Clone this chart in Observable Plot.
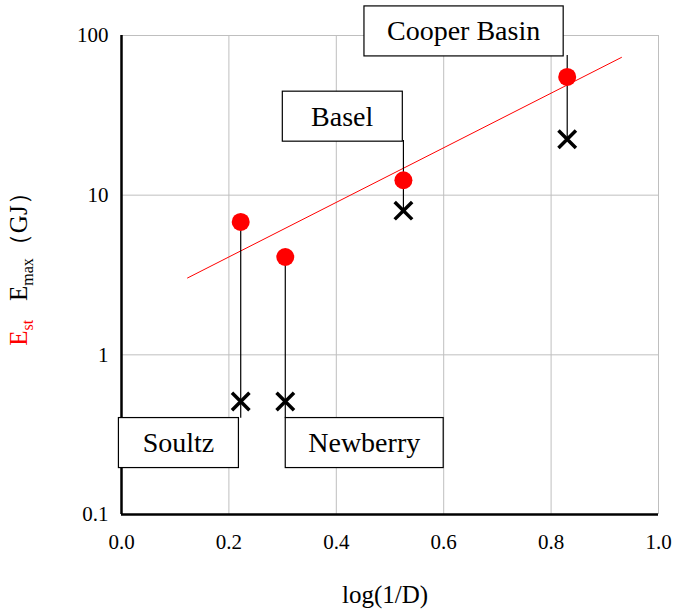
<!DOCTYPE html>
<html><head><meta charset="utf-8">
<script src="https://cdn.jsdelivr.net/npm/d3@7"></script>
<script src="https://cdn.jsdelivr.net/npm/@observablehq/plot@0.6"></script>
<style>body{margin:0;background:#fff} svg{font-family:"Liberation Serif","Times New Roman",serif}</style>
</head><body><div id="chart"></div>
<script>
// ---- data ----
const sites = ["Soultz", "Newberry", "Basel", "Cooper Basin"];
const logInvD = [0.222, 0.305, 0.525, 0.83];
const Est = [6.8, 4.1, 12.4, 55];
const Emax = [0.51, 0.51, 8.0, 22.4];
// callout label anchor (data units) and leader line span
const labelX = [0.106, 0.452, 0.411, 0.637];
const labelY = [0.28, 0.28, 31, 106];
const leaderFrom = [6.8, 4.1, 8.0, 22.4];
const leaderTo = [0.4, 0.4, 22, 75];
// trend line (regression of Est)
const trendX = [0.123, 0.931];
const trendY = [3.03, 72.9];
const xTicks = [0, 0.2, 0.4, 0.6, 0.8, 1.0];
const yTicks = [0.1, 1, 10, 100];

const data = sites.map((s, i) => ({site: s, x: logInvD[i], est: Est[i], emax: Emax[i],
  lx: labelX[i], ly: labelY[i], from: leaderFrom[i], to: leaderTo[i]}));
const trend = trendX.map((x, i) => ({x, y: trendY[i]}));

const W = 673, H = 611;
const chart = Plot.plot({
  width: W, height: H,
  marginLeft: 121, marginRight: 15, marginTop: 35, marginBottom: 97,
  style: {fontFamily: "Liberation Serif, Times New Roman, serif", fontSize: "21px", background: "white", color: "black"},
  x: {domain: [0, 1]},
  y: {type: "log", domain: [0.1, 100]},
  marks: [
    Plot.gridX(xTicks.filter(d => d > 0), {stroke: "#bfbfbf", strokeOpacity: 1}),
    Plot.gridY([1, 10, 100], {stroke: "#bfbfbf", strokeOpacity: 1}),
    Plot.axisX(xTicks, {tickSize: 0, tickPadding: 20, tickFormat: d => d.toFixed(1), label: null, fontSize: 21}),
    Plot.axisY(yTicks, {tickSize: 0, tickPadding: 13, tickFormat: d => String(d), label: null, fontSize: 21}),
    Plot.ruleX([0], {stroke: "black", strokeWidth: 2.5}),
    Plot.ruleY([0.1], {stroke: "black", strokeWidth: 2.5}),
    Plot.line(trend, {x: "x", y: "y", stroke: "red", strokeWidth: 1}),
    Plot.ruleX(data, {x: "x", y1: "from", y2: "to", stroke: "black", strokeWidth: 1.2}),
    Plot.dot(data, {x: "x", y: "est", r: 9, fill: "red"}),
    Plot.dot(data, {x: "x", y: "emax", symbol: "times", r: 8, stroke: "black", strokeWidth: 3.5}),
    Plot.text(data, {x: "lx", y: "ly", text: "site", fontSize: 28, fill: "black", className: "callout"})
  ]
});
document.getElementById("chart").appendChild(chart);

// boxes behind callouts
const svg = d3.select(chart);
svg.selectAll("g.callout text").each(function () {
  const b = this.getBBox();
  const w = Math.max(b.width + 46, 120), h = 50;
  const cx = b.x + b.width / 2, cy = b.y + b.height / 2;
  d3.select(this.parentNode).insert("rect", () => this)
    .attr("transform", this.getAttribute("transform"))
    .attr("x", cx - w / 2).attr("y", cy - h / 2)
    .attr("width", w).attr("height", h)
    .attr("fill", "white").attr("stroke", "black").attr("stroke-width", 1.2);
});

// y axis label
const yl = svg.append("text")
  .attr("transform", "translate(27,263) rotate(-90)")
  .attr("text-anchor", "middle")
  .attr("font-size", 25)
  .attr("fill", "black");
yl.append("tspan").attr("fill", "red").text("E");
yl.append("tspan").attr("fill", "red").attr("font-size", 16).attr("dy", 6).text("st");
yl.append("tspan").attr("dy", -6).text("\u2002 E");
yl.append("tspan").attr("font-size", 16).attr("dy", 6).text("max");
yl.append("tspan").attr("dy", -6).text("\uFF08GJ\uFF09");

// x axis label
svg.append("text")
  .attr("x", 385).attr("y", 603)
  .attr("text-anchor", "middle")
  .attr("font-size", 25)
  .attr("fill", "black")
  .text("log(1/D)");
</script>
</body></html>
